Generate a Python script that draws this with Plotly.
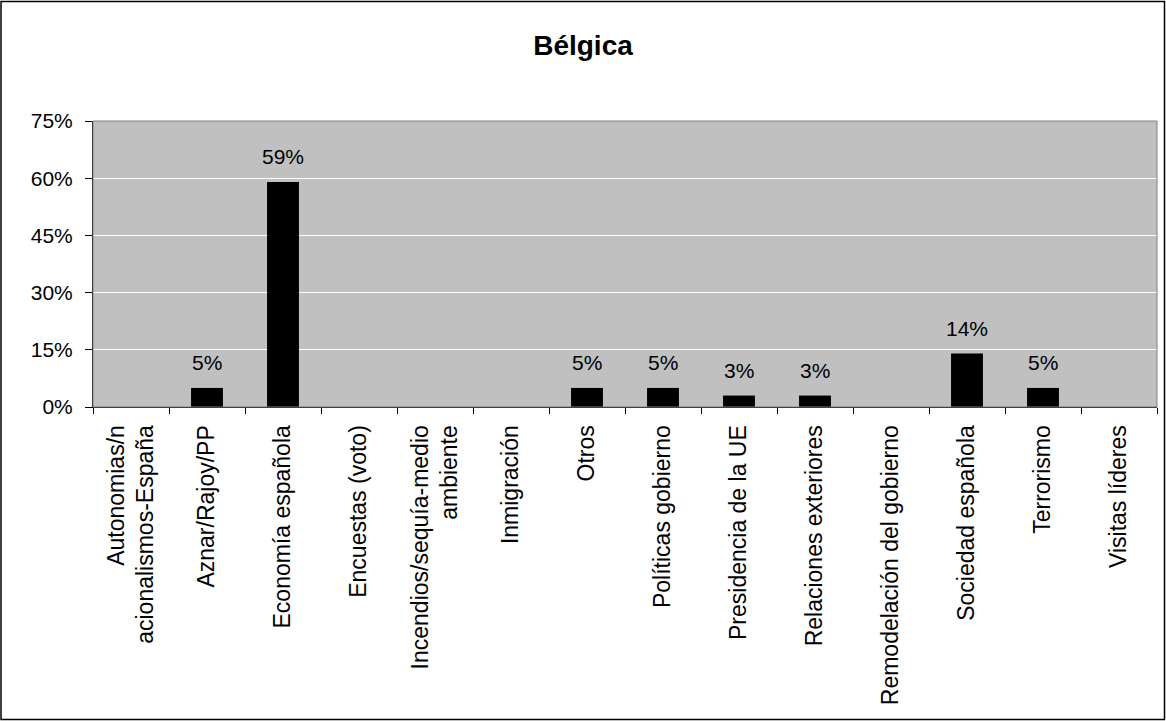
import plotly.graph_objects as go

# Temas de la cobertura en prensa belga (porcentaje de noticias)
categorias = [
    "Autonomias/n<br>acionalismos-España",
    "Aznar/Rajoy/PP",
    "Economía española",
    "Encuestas (voto)",
    "Incendios/sequía-medio<br>ambiente",
    "Inmigración",
    "Otros",
    "Políticas gobierno",
    "Presidencia de la UE",
    "Relaciones exteriores",
    "Remodelación del gobierno",
    "Sociedad española",
    "Terrorismo",
    "Visitas líderes",
]
valores = [0, 5, 59, 0, 0, 0, 5, 5, 3, 3, 0, 14, 5, 0]
ticks_y = [0, 15, 30, 45, 60, 75]

W, H = 1166, 721
ML, MR, MT, MB = 93, 9, 121, 314
FONT = "Arial, Liberation Sans, sans-serif"

fig = go.Figure(
    go.Bar(
        x=categorias,
        y=valores,
        marker=dict(color="black", line=dict(width=0)),
        width=0.42,
    )
)

# etiquetas de valor encima de cada barra
for c, v in zip(categorias, valores):
    if v > 0:
        fig.add_annotation(
            x=c, y=v, text=f"{v}%", showarrow=False,
            yanchor="bottom", yshift=12,
            font=dict(size=21, family=FONT, color="black"),
        )

pw, ph = W - ML - MR, H - MT - MB
fig.add_shape(
    type="rect", xref="paper", yref="paper",
    x0=(1 - ML) / pw, x1=1 + (MR - 1.5) / pw,
    y0=-(MB - 1.5) / ph, y1=1 + (MT - 1.5) / ph,
    line=dict(color="black", width=1.5), layer="below",
)
fig.add_shape(
    type="rect", xref="paper", yref="paper", x0=0, x1=1, y0=0, y1=1,
    line=dict(color="#808080", width=1), layer="above",
)

fig.update_layout(
    width=W, height=H,
    margin=dict(l=ML, r=MR, t=MT, b=MB),
    paper_bgcolor="white",
    plot_bgcolor="#C0C0C0",
    showlegend=False,
    font=dict(family=FONT, color="black", size=21),
    title=dict(
        text="<b>Bélgica</b>", x=0.5, xanchor="center",
        y=1 - 45 / H, yanchor="middle",
        font=dict(size=28, family=FONT, color="black"),
    ),
)
fig.update_xaxes(
    tickangle=-90,
    tickfont=dict(size=23, family=FONT),
    showline=True, linecolor="black", linewidth=1,
    ticks="outside", ticklen=6, tickcolor="black", tickson="boundaries",
    ticklabelstandoff=8,
    showgrid=False,
)
fig.update_yaxes(
    range=[0, 75],
    tickvals=ticks_y,
    ticktext=[f"{t}%" for t in ticks_y],
    tickfont=dict(size=21, family=FONT),
    showline=True, linecolor="black", linewidth=1,
    ticks="outside", ticklen=7, tickcolor="black",
    ticklabelstandoff=8,
    showgrid=True, gridcolor="white", gridwidth=1,
    zeroline=False,
)

fig.write_html("out.html")
